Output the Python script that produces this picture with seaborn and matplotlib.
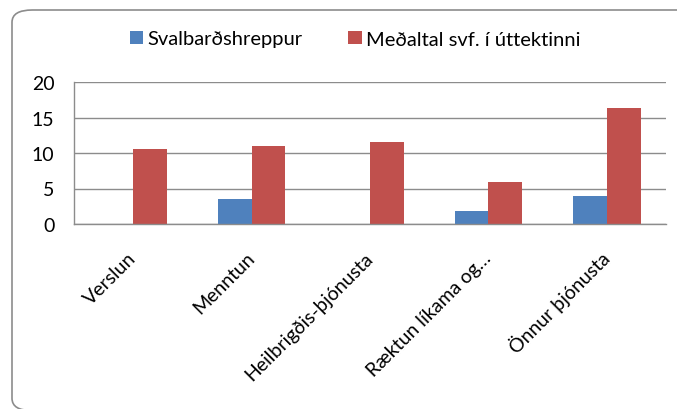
import pandas as pd
import numpy as np
import matplotlib.pyplot as plt
import seaborn as sns
from matplotlib.patches import FancyBboxPatch, Patch

# data
categories = ["Verslun", "Menntun", "Heilbrigðis-þjónusta", "Ræktun líkama og…", "Önnur þjónusta"]
series_names = ["Svalbarðshreppur", "Meðaltal svf. í úttektinni"]
svalbard = [0, 3.5, 0, 1.9, 3.9]
medaltal = [10.6, 11.0, 11.6, 5.9, 16.4]
colors = ["#4F81BD", "#C0504D"]

df = pd.DataFrame({
    "flokkur": categories * 2,
    "röð": [series_names[0]] * 5 + [series_names[1]] * 5,
    "gildi": svalbard + medaltal,
})

sns.set_style("white")
plt.rcParams["font.family"] = ["Lato", "DejaVu Sans"]
plt.rcParams["text.color"] = "black"
plt.rcParams["xtick.labelcolor"] = "black"
plt.rcParams["ytick.labelcolor"] = "black"

fig = plt.figure(figsize=(6.77, 4.10), dpi=100)
ax = fig.add_axes([74 / 677, 1 - 225 / 410, 592 / 677, 142 / 410])

sns.barplot(data=df, x="flokkur", y="gildi", hue="röð", palette=colors,
            width=0.57, gap=0, saturation=1, edgecolor="none",
            legend=False, ax=ax)

ax.set_xlim(-0.5, 4.5)
ax.set_ylim(0, 20)
ax.set_yticks([0, 5, 10, 15, 20])
ax.yaxis.grid(True, color="#8c8c8c", linewidth=1)
ax.set_axisbelow(True)
ax.set_xlabel("")
ax.set_ylabel("")

for side in ["top", "right"]:
    ax.spines[side].set_visible(False)
for side in ["left", "bottom"]:
    ax.spines[side].set_color("#8c8c8c")
    ax.spines[side].set_linewidth(1)

ax.set_xticks(np.arange(-0.5, 5, 1), minor=True)
ax.tick_params(axis="x", which="major", length=0, pad=22)
ax.tick_params(axis="x", which="minor", length=5, color="#8c8c8c", width=1, direction="out")
ax.tick_params(axis="y", length=5, color="#8c8c8c", width=1, direction="out", pad=9)
ax.set_xticklabels(categories, rotation=45, ha="right", va="center",
                   rotation_mode="anchor", fontsize=14, color="black")
for lab in ax.get_yticklabels():
    lab.set_fontsize(14)
    lab.set_color("black")

handles = [Patch(facecolor=c, edgecolor="none") for c in colors]
fig.legend(handles, series_names, loc="center", bbox_to_anchor=(355 / 677, 1 - 40 / 410),
           ncol=2, frameon=False, fontsize=14.5, handlelength=0.65, handleheight=0.65,
           handletextpad=0.2, columnspacing=2.3, labelcolor="black")

# rounded chart border like the spreadsheet chart area
border = FancyBboxPatch((12 / 677, -0.004), 1.1, 1 - 11 / 410 + 0.004,
                        boxstyle="round,pad=0,rounding_size=0.03",
                        transform=fig.transFigure, facecolor="none",
                        edgecolor="#8c8c8c", linewidth=1.2, zorder=0)
fig.patches.append(border)

fig.savefig("out.png", dpi=100)
